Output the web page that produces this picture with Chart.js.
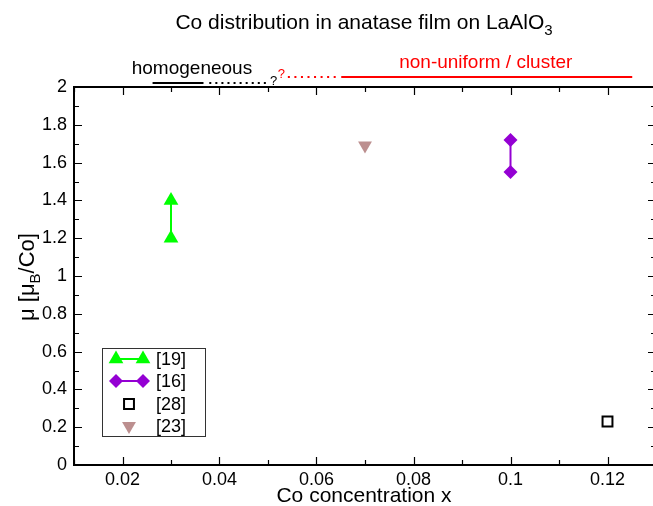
<!DOCTYPE html>
<html>
<head>
<meta charset="utf-8">
<script src="https://cdn.jsdelivr.net/npm/chart.js@4.4.1/dist/chart.umd.min.js"></script>
<style>
  html, body { margin: 0; padding: 0; background: #fff; overflow: hidden; }
  canvas { display: block; }
</style>
</head>
<body>
<canvas id="myChart" width="665" height="506"></canvas>
<script>
const refLabels = ['[19]', '[16]', '[28]', '[23]'];
const ref19X = [0.03, 0.03];
const ref19Y = [1.2, 1.4];
const ref16X = [0.1, 0.1];
const ref16Y = [1.55, 1.72];
const ref28X = [0.12];
const ref28Y = [0.23];
const ref23X = [0.07];
const ref23Y = [1.69];
const xTicks = [0.02, 0.04, 0.06, 0.08, 0.1, 0.12];
const yTicks = [0, 0.2, 0.4, 0.6, 0.8, 1, 1.2, 1.4, 1.6, 1.8, 2];

const FONT = '"Liberation Sans", Arial, Helvetica, sans-serif';

function pts(xs, ys) {
    return xs.map((x, i) => ({ x: x, y: ys[i] }));
}

// marker drawing for the legend (same shapes as chart.js point styles)
function marker(ctx, style, x, y, r, fill, stroke, lw, rot) {
    ctx.save();
    ctx.translate(x, y);
    ctx.rotate((rot || 0) * Math.PI / 180);
    ctx.beginPath();
    if (style === 'triangle') {
        for (let i = 0; i < 3; i++) {
            const a = i * 2 * Math.PI / 3;
            ctx.lineTo(Math.sin(a) * r, -Math.cos(a) * r);
        }
        ctx.closePath();
    } else if (style === 'rectRot') {
        ctx.moveTo(-r, 0); ctx.lineTo(0, -r); ctx.lineTo(r, 0); ctx.lineTo(0, r);
        ctx.closePath();
    } else {
        const s = r * Math.SQRT1_2;
        ctx.rect(-s, -s, 2 * s, 2 * s);
    }
    if (fill) { ctx.fillStyle = fill; ctx.fill(); }
    if (stroke && lw) { ctx.strokeStyle = stroke; ctx.lineWidth = lw; ctx.stroke(); }
    ctx.restore();
}

const frame = {
    id: 'frame',
    afterDatasetsDraw(chart) {
        const ctx = chart.ctx;
        const a = chart.chartArea;
        const xs = chart.scales.x, ys = chart.scales.y;
        ctx.save();
        ctx.strokeStyle = '#000';
        ctx.lineWidth = 2;
        ctx.strokeRect(a.left, a.top, a.right - a.left, a.bottom - a.top);
        ctx.lineWidth = 1.2;
        ctx.beginPath();
        for (let i = 1; i <= 12; i++) {
            const v = i / 100;
            const px = Math.round(xs.getPixelForValue(v)) + 0.5;
            const len = i % 2 === 0 ? 8 : 5;
            ctx.moveTo(px, a.bottom); ctx.lineTo(px, a.bottom - len);
            ctx.moveTo(px, a.top); ctx.lineTo(px, a.top + len);
        }
        for (let i = 1; i < 20; i++) {
            const v = i / 10;
            const py = Math.round(ys.getPixelForValue(v)) + 0.5;
            const len = i % 2 === 0 ? 8 : 5;
            ctx.moveTo(a.left, py); ctx.lineTo(a.left + len, py);
            ctx.moveTo(a.right, py); ctx.lineTo(a.right - len, py);
        }
        ctx.stroke();

        // title with subscript
        ctx.fillStyle = '#000';
        ctx.textBaseline = 'alphabetic';
        const t1 = 'Co distribution in anatase film on LaAlO';
        ctx.font = '15px ' + FONT;
        const w3 = ctx.measureText('3').width;
        ctx.font = '21px ' + FONT;
        const w1 = ctx.measureText(t1).width;
        const tx = 364 - (w1 + w3) / 2;
        ctx.textAlign = 'left';
        ctx.fillText(t1, tx, 29);
        ctx.font = '15px ' + FONT;
        ctx.fillText('3', tx + w1, 35);

        // x axis title
        ctx.font = '21px ' + FONT;
        ctx.textAlign = 'center';
        ctx.fillText('Co concentration x', 364, 502);

        // y axis title
        ctx.save();
        ctx.translate(34, 277);
        ctx.rotate(-Math.PI / 2);
        ctx.textAlign = 'left';
        const p1 = '\u03bc [\u03bc', p2 = 'B', p3 = '/Co]';
        ctx.font = '22px ' + FONT;
        const a1 = ctx.measureText(p1).width, a3 = ctx.measureText(p3).width;
        ctx.font = '15px ' + FONT;
        const a2 = ctx.measureText(p2).width;
        let cx = -(a1 + a2 + a3) / 2;
        ctx.font = '22px ' + FONT;
        ctx.fillText(p1, cx, 0);
        ctx.font = '15px ' + FONT;
        ctx.fillText(p2, cx + a1, 6);
        ctx.font = '22px ' + FONT;
        ctx.fillText(p3, cx + a1 + a2, 0);
        ctx.restore();
        ctx.restore();
    }
};

// homogeneous / cluster band above the plot (x in data units)
const band = {
    id: 'band',
    afterDraw(chart) {
        const ctx = chart.ctx;
        const xs = chart.scales.x;
        const X = v => xs.getPixelForValue(v);
        ctx.save();
        ctx.font = '19px ' + FONT;
        ctx.textBaseline = 'alphabetic';
        ctx.fillStyle = '#000';
        ctx.textAlign = 'left';
        ctx.fillText('homogeneous', X(0.0219), 74);
        ctx.strokeStyle = '#000';
        ctx.lineWidth = 2;
        ctx.beginPath();
        ctx.moveTo(X(0.0262), 83); ctx.lineTo(X(0.0367), 83);
        ctx.stroke();
        ctx.fillStyle = '#000';
        for (let v = 0.0381; v <= 0.0495; v += 0.00125) {
            ctx.fillRect(X(v) - 1, 82, 2, 2);
        }
        ctx.font = '13px ' + FONT;
        ctx.fillText('?', X(0.0504), 85);
        ctx.fillStyle = '#ff0000';
        ctx.fillText('?', X(0.052), 78);
        for (let v = 0.0543; v <= 0.0638; v += 0.00135) {
            ctx.fillRect(X(v) - 1, 76, 2, 2);
        }
        ctx.strokeStyle = '#ff0000';
        ctx.beginPath();
        ctx.moveTo(X(0.0651), 77); ctx.lineTo(X(0.1251), 77);
        ctx.stroke();
        ctx.font = '19px ' + FONT;
        ctx.textAlign = 'center';
        ctx.fillText('non-uniform / cluster', X(0.0949), 68);
        ctx.restore();
    }
};

const legendBox = {
    id: 'legendBox',
    afterDraw(chart) {
        const ctx = chart.ctx;
        const ds = chart.data.datasets;
        ctx.save();
        ctx.fillStyle = '#fff';
        ctx.fillRect(102, 348, 103, 88);
        ctx.strokeStyle = '#333';
        ctx.lineWidth = 1;
        ctx.strokeRect(102.5, 348.5, 103, 88);
        const rows = [359, 381, 404, 426];
        ds.forEach((d, i) => {
            const y = rows[i];
            if (d.showLine) {
                ctx.strokeStyle = d.borderColor;
                ctx.lineWidth = 2;
                ctx.beginPath();
                ctx.moveTo(116, y); ctx.lineTo(143, y);
                ctx.stroke();
                marker(ctx, d.pointStyle, 116, y, d.pointRadius, d.pointBackgroundColor, null, 0, 0);
                marker(ctx, d.pointStyle, 143, y, d.pointRadius, d.pointBackgroundColor, null, 0, 0);
            } else {
                marker(ctx, d.pointStyle, 129, y, d.pointRadius, d.pointBackgroundColor,
                       d.pointBorderColor, d.pointBorderWidth, d.pointRotation);
            }
            ctx.fillStyle = '#000';
            ctx.font = '18px ' + FONT;
            ctx.textAlign = 'left';
            ctx.textBaseline = 'middle';
            ctx.fillText(refLabels[i], 156, y + 1);
        });
        ctx.restore();
    }
};

new Chart(document.getElementById('myChart'), {
    type: 'scatter',
    data: {
        datasets: [{
            label: refLabels[0],
            data: pts(ref19X, ref19Y),
            showLine: true,
            borderColor: '#00ff00',
            borderWidth: 2,
            pointStyle: 'triangle',
            pointRadius: 8.5,
            pointBackgroundColor: '#00ff00',
            pointBorderColor: '#00ff00',
            pointBorderWidth: 0,
            pointRotation: 0
        }, {
            label: refLabels[1],
            data: pts(ref16X, ref16Y),
            showLine: true,
            borderColor: '#9400d3',
            borderWidth: 2,
            pointStyle: 'rectRot',
            pointRadius: 7,
            pointBackgroundColor: '#9400d3',
            pointBorderColor: '#9400d3',
            pointBorderWidth: 0,
            pointRotation: 0
        }, {
            label: refLabels[2],
            data: pts(ref28X, ref28Y),
            showLine: false,
            pointStyle: 'rect',
            pointRadius: 7,
            pointBackgroundColor: '#ffffff',
            pointBorderColor: '#000000',
            pointBorderWidth: 2,
            pointRotation: 0
        }, {
            label: refLabels[3],
            data: pts(ref23X, ref23Y),
            showLine: false,
            pointStyle: 'triangle',
            pointRadius: 8,
            pointBackgroundColor: '#bc8f8f',
            pointBorderColor: '#bc8f8f',
            pointBorderWidth: 0,
            pointRotation: 180
        }]
    },
    options: {
        responsive: false,
        animation: false,
        clip: false,
        layout: { padding: { top: 87, right: 4, left: 0, bottom: 0 } },
        scales: {
            x: {
                type: 'linear',
                min: 0.01,
                max: 0.13,
                grid: { display: false, drawTicks: false },
                border: { display: false },
                afterBuildTicks: s => { s.ticks = xTicks.map(v => ({ value: v })); },
                afterFit: s => { s.height = 41; },
                ticks: {
                    padding: 4,
                    color: '#000',
                    font: { size: 18, family: FONT },
                    callback: v => String(+v.toFixed(2))
                }
            },
            y: {
                min: 0,
                max: 2,
                grid: { display: false, drawTicks: false },
                border: { display: false },
                afterBuildTicks: s => { s.ticks = yTicks.map(v => ({ value: v })); },
                afterFit: s => { s.width = 74; },
                ticks: {
                    padding: 7,
                    color: '#000',
                    font: { size: 18, family: FONT },
                    callback: v => String(+v.toFixed(1))
                }
            }
        },
        plugins: {
            legend: { display: false },
            tooltip: { enabled: false }
        }
    },
    plugins: [frame, band, legendBox]
});
</script>
</body>
</html>
